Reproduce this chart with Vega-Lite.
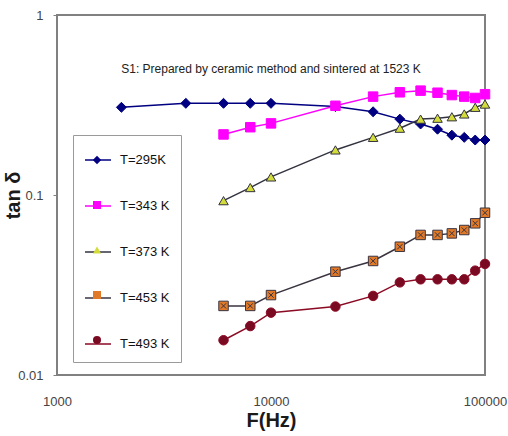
{
  "$schema": "https://vega.github.io/schema/vega-lite/v6.json",
  "width": 428,
  "height": 360,
  "autosize": {"type": "none"},
  "padding": {"left": 57, "top": 15, "right": 23, "bottom": 61},
  "background": "white",
  "title": {
    "text": "S1: Prepared by ceramic method and sintered at 1523 K",
    "font": "Liberation Sans",
    "fontSize": 12,
    "fontWeight": "normal",
    "color": "#222222",
    "anchor": "middle",
    "frame": "group",
    "offset": -67
  },
  "data": {
    "values": [
      {"T": "T=295K", "F": 2000, "tan": 0.307},
      {"T": "T=295K", "F": 4000, "tan": 0.323},
      {"T": "T=295K", "F": 6000, "tan": 0.323},
      {"T": "T=295K", "F": 8000, "tan": 0.323},
      {"T": "T=295K", "F": 10000, "tan": 0.323},
      {"T": "T=295K", "F": 20000, "tan": 0.31},
      {"T": "T=295K", "F": 30000, "tan": 0.29},
      {"T": "T=295K", "F": 40000, "tan": 0.264},
      {"T": "T=295K", "F": 50000, "tan": 0.248},
      {"T": "T=295K", "F": 60000, "tan": 0.232},
      {"T": "T=295K", "F": 70000, "tan": 0.215},
      {"T": "T=295K", "F": 80000, "tan": 0.209},
      {"T": "T=295K", "F": 90000, "tan": 0.202},
      {"T": "T=295K", "F": 100000, "tan": 0.202},

      {"T": "T=343 K", "F": 6000, "tan": 0.217},
      {"T": "T=343 K", "F": 8000, "tan": 0.238},
      {"T": "T=343 K", "F": 10000, "tan": 0.25},
      {"T": "T=343 K", "F": 20000, "tan": 0.313},
      {"T": "T=343 K", "F": 30000, "tan": 0.352},
      {"T": "T=343 K", "F": 40000, "tan": 0.372},
      {"T": "T=343 K", "F": 50000, "tan": 0.38},
      {"T": "T=343 K", "F": 60000, "tan": 0.37},
      {"T": "T=343 K", "F": 70000, "tan": 0.359},
      {"T": "T=343 K", "F": 80000, "tan": 0.352},
      {"T": "T=343 K", "F": 90000, "tan": 0.346},
      {"T": "T=343 K", "F": 100000, "tan": 0.363},

      {"T": "T=373 K", "F": 6000, "tan": 0.093},
      {"T": "T=373 K", "F": 8000, "tan": 0.11},
      {"T": "T=373 K", "F": 10000, "tan": 0.126},
      {"T": "T=373 K", "F": 20000, "tan": 0.178},
      {"T": "T=373 K", "F": 30000, "tan": 0.209},
      {"T": "T=373 K", "F": 40000, "tan": 0.235},
      {"T": "T=373 K", "F": 50000, "tan": 0.264},
      {"T": "T=373 K", "F": 60000, "tan": 0.267},
      {"T": "T=373 K", "F": 70000, "tan": 0.272},
      {"T": "T=373 K", "F": 80000, "tan": 0.282},
      {"T": "T=373 K", "F": 90000, "tan": 0.307},
      {"T": "T=373 K", "F": 100000, "tan": 0.32},

      {"T": "T=453 K", "F": 6000, "tan": 0.0242},
      {"T": "T=453 K", "F": 8000, "tan": 0.0242},
      {"T": "T=453 K", "F": 10000, "tan": 0.0278},
      {"T": "T=453 K", "F": 20000, "tan": 0.0375},
      {"T": "T=453 K", "F": 30000, "tan": 0.043},
      {"T": "T=453 K", "F": 40000, "tan": 0.0516},
      {"T": "T=453 K", "F": 50000, "tan": 0.06},
      {"T": "T=453 K", "F": 60000, "tan": 0.06},
      {"T": "T=453 K", "F": 70000, "tan": 0.0612},
      {"T": "T=453 K", "F": 80000, "tan": 0.0639},
      {"T": "T=453 K", "F": 90000, "tan": 0.0696},
      {"T": "T=453 K", "F": 100000, "tan": 0.0797},

      {"T": "T=493 K", "F": 6000, "tan": 0.0156},
      {"T": "T=493 K", "F": 8000, "tan": 0.0187},
      {"T": "T=493 K", "F": 10000, "tan": 0.0222},
      {"T": "T=493 K", "F": 20000, "tan": 0.024},
      {"T": "T=493 K", "F": 30000, "tan": 0.0275},
      {"T": "T=493 K", "F": 40000, "tan": 0.0327},
      {"T": "T=493 K", "F": 50000, "tan": 0.034},
      {"T": "T=493 K", "F": 60000, "tan": 0.034},
      {"T": "T=493 K", "F": 70000, "tan": 0.034},
      {"T": "T=493 K", "F": 80000, "tan": 0.034},
      {"T": "T=493 K", "F": 90000, "tan": 0.038},
      {"T": "T=493 K", "F": 100000, "tan": 0.0414}
    ]
  },
  "encoding": {
    "x": {
      "field": "F",
      "type": "quantitative",
      "scale": {"type": "log", "domain": [1000, 100000], "nice": false},
      "axis": {
        "values": [1000, 10000, 100000],
        "format": "d",
        "labelFlush": false,
        "labelOverlap": false,
        "ticks": false,
        "domain": false,
        "grid": false,
        "labelFont": "Liberation Sans",
        "labelFontSize": 13,
        "labelColor": "#444444",
        "labelPadding": 20,
        "title": "F(Hz)",
        "titleFont": "Liberation Sans",
        "titleFontSize": 20,
        "titleFontWeight": "bold",
        "titleColor": "#1a1a1a",
        "titlePadding": 2
      }
    },
    "y": {
      "field": "tan",
      "type": "quantitative",
      "scale": {"type": "log", "domain": [0.01, 1], "nice": false},
      "axis": {
        "values": [0.01, 0.1, 1],
        "format": "~g",
        "labelOverlap": false,
        "domain": false,
        "grid": false,
        "ticks": true,
        "tickSize": 4,
        "tickColor": "#808080",
        "labelFont": "Liberation Sans",
        "labelFontSize": 13,
        "labelColor": "#444444",
        "labelPadding": 10,
        "title": "tan δ",
        "titleFont": "Liberation Sans",
        "titleFontSize": 20,
        "titleFontWeight": "bold",
        "titleColor": "#1a1a1a",
        "titlePadding": -6
      }
    }
  },
  "layer": [
    {
      "mark": {"type": "line", "strokeWidth": 1.5},
      "encoding": {
        "stroke": {
          "field": "T",
          "type": "nominal",
          "scale": {
            "domain": ["T=295K", "T=343 K", "T=373 K", "T=453 K", "T=493 K"],
            "range": ["#000080", "#FF00FF", "#333340", "#3a3440", "#8b0a24"]
          },
          "legend": {
            "title": null,
            "orient": "none",
            "legendX": 16,
            "legendY": 120,
            "zindex": 0,
            "padding": 11,
            "rowPadding": 25,
            "strokeColor": "#9a9a9a",
            "symbolType": "stroke",
            "symbolSize": 676,
            "symbolStrokeWidth": 1.5,
            "labelFont": "Liberation Sans",
            "labelFontSize": 13,
            "labelColor": "#111111",
            "labelOffset": 8
          }
        }
      }
    },
    {
      "mark": {"type": "point", "filled": true, "size": 90, "strokeWidth": 1, "opacity": 1},
      "encoding": {
        "fill": {
          "field": "T",
          "type": "nominal",
          "scale": {
            "range": ["#000080", "#FF00FF", "#D4DC3C", "#E07A28", "#7a0a22"]
          },
          "legend": {
            "title": null,
            "orient": "none",
            "legendX": 22.5,
            "legendY": 127.5,
            "zindex": 1,
            "padding": 11,
            "rowPadding": 31,
            "symbolSize": 64,
            "symbolStrokeWidth": 1,
            "labelFont": "Liberation Sans",
            "labelFontSize": 13,
            "labelExpr": "''",
            "labelOffset": 8
          }
        },
        "stroke": {
          "field": "T",
          "type": "nominal",
          "legend": {
            "title": null,
            "orient": "none",
            "legendX": 16,
            "legendY": 120,
            "zindex": 0,
            "padding": 11,
            "rowPadding": 25,
            "strokeColor": "#9a9a9a",
            "symbolType": "stroke",
            "symbolSize": 676,
            "symbolStrokeWidth": 1.5,
            "labelFont": "Liberation Sans",
            "labelFontSize": 13,
            "labelColor": "#111111",
            "labelOffset": 8
          }
        },
        "shape": {
          "field": "T",
          "type": "nominal",
          "scale": {
            "range": ["M0,-1.05L1.05,0L0,1.05L-1.05,0Z", "square", "triangle-up", "M-1,-1H1V1H-1Z M-0.55,-0.55L0.55,0.55 M0.55,-0.55L-0.55,0.55", "circle"]
          },
          "legend": {
            "title": null,
            "orient": "none",
            "legendX": 22.5,
            "legendY": 127.5,
            "zindex": 1,
            "padding": 11,
            "rowPadding": 31,
            "symbolSize": 64,
            "symbolStrokeWidth": 1,
            "labelFont": "Liberation Sans",
            "labelFontSize": 13,
            "labelExpr": "''",
            "labelOffset": 8
          }
        }
      }
    }
  ],
  "config": {
    "view": {"stroke": "#808080", "strokeWidth": 2},
    "font": "Liberation Sans"
  }
}
